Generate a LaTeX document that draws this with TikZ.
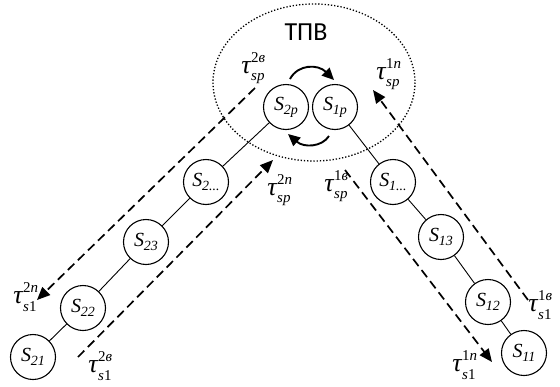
\documentclass[tikz,border=0pt]{standalone}
\usepackage{fontspec}
\setmainfont{Liberation Serif}
\newfontfamily\zonefont{Carlito}
\usetikzlibrary{arrows.meta}

% state label: italic S with an italic index
\newcommand\Sname[1]{{\fontsize{20}{20}\selectfont\itshape S}\kern-0.3pt\raisebox{-4pt}{\fontsize{14}{14}\selectfont\itshape #1}}
% delay label: tau with stacked upper and lower indices
\newcommand\tlab[2]{{\fontsize{26}{26}\selectfont\itshape τ}\kern0.5pt\rlap{\raisebox{11pt}{\fontsize{15}{15}\selectfont #1}}\raisebox{-7.5pt}{\fontsize{15}{15}\selectfont #2}}

\tikzset{
  stnode/.style={circle,draw,line width=1.1pt,minimum size=45pt,inner sep=0pt},
  link/.style={line width=0.9pt},
  flow/.style={line width=1.7pt,dash pattern=on 9pt off 5pt,-{Triangle[length=13pt,width=11pt]}},
  swap/.style={line width=1.9pt,-{Triangle[length=12pt,width=11pt]}},
  zone/.style={line width=1.3pt,dash pattern=on 1.3pt off 1.9pt},
  tl/.style={inner sep=0pt}
}

\begin{document}
\begin{tikzpicture}[x=1pt,y=-1pt]
\useasboundingbox (0,0) rectangle (560,386);

% dotted zone
\draw[zone] (314,82.5) ellipse [x radius=101, y radius=78.5];
\node[font=\zonefont\fontsize{26}{26}\selectfont] (zt) at (306,32) {ТПВ};

% chain 2
\node[stnode] (s21) at (33,357) {\Sname{21}};
\node[stnode] (s22) at (83,308) {\Sname{22}};
\node[stnode] (s23) at (146,242) {\Sname{23}};
\node[stnode] (s2d) at (206,182) {\Sname{2...}};
\node[stnode] (s2p) at (286,107) {\Sname{2p}};
% chain 1
\node[stnode] (s1p) at (335,107) {\Sname{1p}};
\node[stnode] (s1d) at (393,182) {\Sname{1...}};
\node[stnode] (s13) at (441,237) {\Sname{13}};
\node[stnode] (s12) at (488,302) {\Sname{12}};
\node[stnode] (s11) at (524,353) {\Sname{11}};

\draw[link] (s21) -- (s22) -- (s23) -- (s2d) -- (s2p);
\draw[link] (s1p) -- (s1d) -- (s13) -- (s12) -- (s11);

% dashed flows
\coordinate (a1) at (255,88);  \coordinate (a2) at (37,300);
\coordinate (b1) at (78,357);  \coordinate (b2) at (273,160);
\coordinate (c1) at (528,300); \coordinate (c2) at (373,90);
\coordinate (d1) at (345,170); \coordinate (d2) at (492,362);
\draw[flow] (a1) -- (a2);
\draw[flow] (b1) -- (b2);
\draw[flow] (c1) -- (c2);
\draw[flow] (d1) -- (d2);

% exchange arrows
\coordinate (e1) at (290,79);  \coordinate (e2) at (334,80);
\coordinate (f1) at (329,136); \coordinate (f2) at (288,134);
\draw[swap] (e1) .. controls (298,64) and (318,64) .. (e2);
\draw[swap] (f1) .. controls (322,147) and (304,148) .. (f2);

% delay labels
\node[tl] (t1) at (253,68)  {\tlab{2\textit{в}}{\textit{sp}}};
\node[tl] (t2) at (388,74)  {\tlab{1\textit{n}}{\textit{sp}}};
\node[tl] (t3) at (279,190) {\tlab{2\textit{n}}{\textit{sp}}};
\node[tl] (t4) at (336,186) {\tlab{1\textit{в}}{\textit{sp}}};
\node[tl] (t5) at (25,297)  {\tlab{2\textit{n}}{\textit{s}1}};
\node[tl] (t6) at (100,366) {\tlab{2\textit{в}}{\textit{s}1}};
\node[tl] (t7) at (464,365) {\tlab{1\textit{n}}{\textit{s}1}};
\node[tl] (t8) at (540,305) {\tlab{1\textit{в}}{\textit{s}1}};
\end{tikzpicture}
\end{document}
